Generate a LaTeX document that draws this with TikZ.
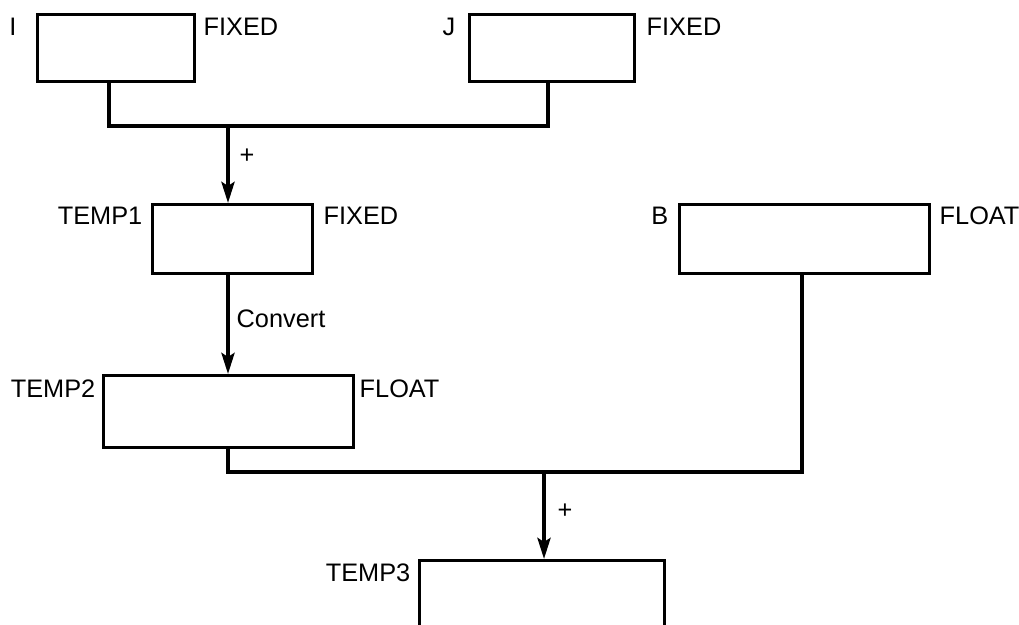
\documentclass[tikz,border=0pt]{standalone}
\usepackage{fontspec}
\setmainfont{Liberation Sans}
\usetikzlibrary{arrows.meta}
\begin{document}
\begin{tikzpicture}[x=0.01cm,y=-0.01cm,
  box/.style={draw, line width=0.9pt, inner sep=0pt, anchor=north west},
  lbl/.style={inner sep=0pt, font=\fontsize{7.2}{8.6}\selectfont},
  wire/.style={line width=0.9pt},
  arr/.style={line width=1.1pt, -{Stealth[length=0.21cm, width=0.13cm, inset=0.04cm]}}]
\useasboundingbox (0,0) rectangle (1019,624);
\clip (0,0) rectangle (1019,624);
% boxes
\node[box, minimum width=1.57cm, minimum height=0.67cm] (I) at (36,13) {};
\node[box, minimum width=1.65cm, minimum height=0.67cm] (J) at (468,13) {};
\node[box, minimum width=1.60cm, minimum height=0.69cm] (T1) at (151,203) {};
\node[box, minimum width=2.50cm, minimum height=0.69cm] (B) at (678,203) {};
\node[box, minimum width=2.50cm, minimum height=0.72cm] (T2) at (102,374) {};
\node[box, minimum width=2.45cm, minimum height=1.00cm] (T3) at (418,559) {};
% labels
\node[lbl, anchor=base east] (lI) at (17,35) {I};
\node[lbl, anchor=base west] (fI) at (203,35) {FIXED};
\node[lbl, anchor=base east] (lJ) at (456,35) {J};
\node[lbl, anchor=base west] (fJ) at (646,35) {FIXED};
\node[lbl, anchor=base east] (lT1) at (143,224) {TEMP1};
\node[lbl, anchor=base west] (fT1) at (323,224) {FIXED};
\node[lbl, anchor=base east] (lB) at (669,224) {B};
\node[lbl, anchor=base west] (fB) at (939,224) {FLOAT};
\node[lbl, anchor=base east] (lT2) at (96,397) {TEMP2};
\node[lbl, anchor=base west] (fT2) at (359,397) {FLOAT};
\node[lbl, anchor=base east] (lT3) at (411,581) {TEMP3};
% junctions
\coordinate (j1) at (109,126);
\coordinate (j2) at (548,126);
\coordinate (a1) at (228,126);
\coordinate (m1) at (228,472);
\coordinate (m2) at (802,472);
\coordinate (a2) at (544,472);
% connectors
\draw[wire] (I.south -| j1) -- (j1) -- (j2) -- (J.south -| j2);
\draw[arr] (a1) -- (T1.north -| a1);
\node[lbl] (p1) at (247,156) {+};
\draw[arr] (T1.south -| a1) -- (T2.north -| a1);
\node[lbl, anchor=base west] (cv) at (236,327) {Convert};
\draw[wire] (T2.south -| m1) -- (m1) -- (m2) -- (B.south -| m2);
\draw[arr] (a2) -- (T3.north -| a2);
\node[lbl] (p2) at (565,511) {+};
\end{tikzpicture}
\end{document}
